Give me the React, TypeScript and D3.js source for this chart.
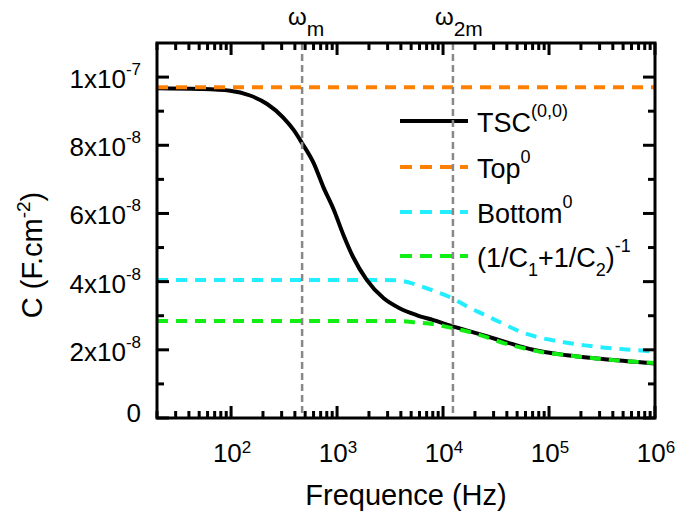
import React from "react";
import * as d3 from "d3";

// ---- data (values in F/cm², frequencies in Hz) ----
const TSC_FREQ = [20, 50, 98, 151, 219, 309, 389, 468, 603, 741, 933, 1148, 1413, 1905, 2754, 3890, 5623, 8128, 11750, 16600, 25700, 39800, 70800, 148000, 302000, 1000000];
const TSC_VALUES = [9.67e-8, 9.65e-8, 9.6e-8, 9.46e-8, 9.21e-8, 8.82e-8, 8.45e-8, 8.06e-8, 7.47e-8, 6.78e-8, 6.1e-8, 5.37e-8, 4.73e-8, 4.05e-8, 3.51e-8, 3.22e-8, 3.02e-8, 2.87e-8, 2.71e-8, 2.57e-8, 2.4e-8, 2.22e-8, 2.0e-8, 1.84e-8, 1.74e-8, 1.6e-8];

const TOP_FREQ = [20, 1000000];
const TOP_VALUES = [9.7e-8, 9.7e-8];

const BOTTOM_FREQ = [20, 1000, 2754, 3890, 5623, 8128, 11750, 17380, 25700, 37150, 54950, 87100, 138000, 218800, 338800, 537000, 1000000];
const BOTTOM_VALUES = [4.05e-8, 4.05e-8, 4.05e-8, 4.03e-8, 3.91e-8, 3.73e-8, 3.54e-8, 3.25e-8, 3.0e-8, 2.76e-8, 2.52e-8, 2.34e-8, 2.22e-8, 2.13e-8, 2.06e-8, 2.01e-8, 1.95e-8];

const SERIES_FREQ = [20, 1000, 3890, 5623, 8128, 11750, 17380, 25700, 38000, 58900, 91200, 138000, 219000, 339000, 525000, 1000000];
const SERIES_VALUES = [2.845e-8, 2.845e-8, 2.845e-8, 2.8e-8, 2.75e-8, 2.65e-8, 2.53e-8, 2.37e-8, 2.19e-8, 2.04e-8, 1.92e-8, 1.85e-8, 1.78e-8, 1.72e-8, 1.67e-8, 1.61e-8];

const OMEGA_M = 468;
const OMEGA_2M = 12400;

const Y_TICKS = [0, 2e-8, 4e-8, 6e-8, 8e-8, 1e-7];
const Y_TICK_MANT = ["0", "2x10", "4x10", "6x10", "8x10", "1x10"];
const Y_TICK_EXP = ["", "-8", "-8", "-8", "-8", "-7"];
const X_TICKS = [100, 1000, 10000, 100000, 1000000];
const X_TICK_EXP = ["2", "3", "4", "5", "6"];

const FONT = "'Liberation Sans', Arial, sans-serif";

export default function App() {
  const W = 676, H = 517;
  const L = 157, R = 655, T = 43, B = 418;
  const x = d3.scaleLog().domain([20, 1e6]).range([L, R]);
  const y = d3.scaleLinear().domain([0, 1.1e-7]).range([B, T]);

  const mk = (fs: number[], vs: number[]) => fs.map((f, i) => ({ f, v: vs[i] }));
  const line = d3
    .line<{ f: number; v: number }>()
    .x((d) => x(d.f))
    .y((d) => y(d.v))
    .curve(d3.curveMonotoneX);

  const minorX: number[] = [];
  for (let e = 1; e <= 5; e++) {
    for (let m = 2; m <= 9; m++) {
      const v = m * Math.pow(10, e);
      if (v >= 20 && v <= 1e6) minorX.push(v);
    }
  }
  const minorY: number[] = d3.range(1e-8, 1.1e-7, 2e-8);

  const legend = [
    { color: "#000", dash: null as string | null },
    { color: "#FF8000", dash: "12 8" },
    { color: "#22EEFF", dash: "12 8" },
    { color: "#11EE11", dash: "12 8" },
  ];
  const legY = [121, 167, 212, 256];

  const dash = "11 8";
  return (
    <svg
      width={W}
      height={H}
      style={{ position: "absolute", left: 0, top: 0, background: "#fff" }}
      fontFamily={FONT}
    >
      <rect x={0} y={0} width={W} height={H} fill="#fff" />
      <path d={line(mk(BOTTOM_FREQ, BOTTOM_VALUES)) || ""} fill="none" stroke="#22EEFF" strokeWidth={4} strokeDasharray={dash} />
      <path d={line(mk(TSC_FREQ, TSC_VALUES)) || ""} fill="none" stroke="#000" strokeWidth={4} />
      <path d={line(mk(TOP_FREQ, TOP_VALUES)) || ""} fill="none" stroke="#FF8000" strokeWidth={4} strokeDasharray={dash} />
      <path d={line(mk(SERIES_FREQ, SERIES_VALUES)) || ""} fill="none" stroke="#11EE11" strokeWidth={4} strokeDasharray={dash} />

      {legend.map((l, i) => (
        <line key={i} x1={400} x2={468} y1={legY[i]} y2={legY[i]} stroke={l.color} strokeWidth={4} strokeDasharray={l.dash || undefined} />
      ))}
      <text x={477} y={legY[0] + 11} fontSize={27}>
        TSC<tspan dy={-15} fontSize={18}>(0,0)</tspan>
      </text>
      <text x={477} y={legY[1] + 11} fontSize={27}>
        Top<tspan dy={-15} fontSize={18}>0</tspan>
      </text>
      <text x={477} y={legY[2] + 11} fontSize={27}>
        Bottom<tspan dy={-15} fontSize={18}>0</tspan>
      </text>
      <text x={477} y={legY[3] + 11} fontSize={27}>
        (1/C<tspan dy={9} fontSize={18}>1</tspan>
        <tspan dy={-9}>+1/C</tspan>
        <tspan dy={9} fontSize={18}>2</tspan>
        <tspan dy={-9}>)</tspan>
        <tspan dy={-15} fontSize={18}>-1</tspan>
      </text>

      {[OMEGA_M, OMEGA_2M].map((f, i) => (
        <line key={i} x1={x(f)} x2={x(f)} y1={T} y2={B} stroke="#888" strokeWidth={2.5} strokeDasharray="7 4" />
      ))}
      <text x={x(OMEGA_M) - 14} y={25} fontSize={24}>
        ω<tspan dy={11} fontSize={21}>m</tspan>
      </text>
      <text x={x(OMEGA_2M) - 18} y={25} fontSize={24}>
        ω<tspan dy={11} fontSize={21}>2m</tspan>
      </text>

      <g stroke="#000" strokeWidth={3}>
        {X_TICKS.map((t) => (
          <g key={"xm" + t}>
            <line x1={x(t)} x2={x(t)} y1={B} y2={B - 12} />
            <line x1={x(t)} x2={x(t)} y1={T} y2={T + 12} />
          </g>
        ))}
        {minorX.map((t) => (
          <g key={"xn" + t}>
            <line x1={x(t)} x2={x(t)} y1={B} y2={B - 7} />
            <line x1={x(t)} x2={x(t)} y1={T} y2={T + 7} />
          </g>
        ))}
        {Y_TICKS.map((t) => (
          <g key={"ym" + t}>
            <line x1={L} x2={L + 12} y1={y(t)} y2={y(t)} />
            <line x1={R} x2={R - 12} y1={y(t)} y2={y(t)} />
          </g>
        ))}
        {minorY.map((t) => (
          <g key={"yn" + t}>
            <line x1={L} x2={L + 7} y1={y(t)} y2={y(t)} />
            <line x1={R} x2={R - 7} y1={y(t)} y2={y(t)} />
          </g>
        ))}
      </g>
      <rect x={L} y={T} width={R - L} height={B - T} fill="none" stroke="#000" strokeWidth={3} />

      {Y_TICKS.map((t, i) => (
        <text key={"yl" + t} x={141} y={y(t) + (i === 0 ? 4 : 11)} fontSize={26} textAnchor="end">
          {Y_TICK_MANT[i]}
          {Y_TICK_EXP[i] && (
            <tspan dy={-13} fontSize={17}>
              {Y_TICK_EXP[i]}
            </tspan>
          )}
        </text>
      ))}
      {X_TICKS.map((t, i) => (
        <text key={"xl" + t} x={x(t) + 1} y={462} fontSize={26} textAnchor="middle">
          10<tspan dy={-9} fontSize={17}>{X_TICK_EXP[i]}</tspan>
        </text>
      ))}

      <text x={(L + R) / 2} y={505} fontSize={29} textAnchor="middle">
        Frequence (Hz)
      </text>
      <text transform={`translate(42, 255) rotate(-90)`} fontSize={29} textAnchor="middle">
        C (F.cm<tspan dy={-12} fontSize={19}>-2</tspan>
        <tspan dy={12}>)</tspan>
      </text>
    </svg>
  );
}
